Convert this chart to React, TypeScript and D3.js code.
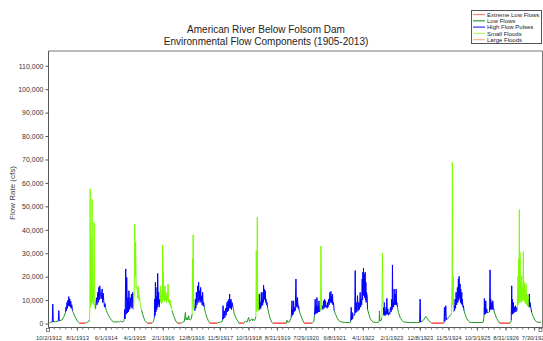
import { useEffect, useRef } from "react";
import * as d3 from "d3";

// flow component codes: E extreme low, L low flow, H high flow pulse, S small flood
type Comp = "E" | "L" | "H" | "S";
type Pt = [number, number, Comp]; // [record step (~11 days) from 10/2/1912, flow cfs, component]

const wy1913: Pt[] = [
  [0.8, 300, "L"], [2, 500, "L"], [3.8, 600, "L"], [4.3, 8300, "H"], [4.8, 700, "L"], [7, 800, "L"],
  [9.8, 1000, "L"], [10.3, 5500, "H"], [10.8, 1200, "L"], [13.5, 1500, "L"], [15.5, 3000, "L"], [17, 4700, "L"],
  [17.5, 7000, "H"], [18, 5500, "H"], [18.5, 9000, "H"], [19, 6500, "H"], [19.5, 10000, "H"], [20, 7500, "H"],
  [20.3, 11500, "H"], [20.8, 7500, "H"], [21.3, 10500, "H"], [21.8, 7000, "H"], [22.3, 9500, "H"], [22.8, 6500, "H"],
  [23.3, 8000, "H"], [24, 5500, "L"], [25, 4500, "L"], [27, 2500, "L"], [29, 1000, "L"], [30.5, 300, "L"],
  [31, 150, "E"], [37, 150, "E"], [38, 400, "L"], [40, 700, "L"],
];
const wy1914: Pt[] = [
  [41, 1500, "L"], [41.4, 6000, "S"], [41.7, 57500, "S"], [42.1, 7000, "S"], [42.7, 36500, "S"], [43.1, 8000, "S"],
  [43.7, 53000, "S"], [44.1, 9000, "S"], [44.6, 17000, "S"], [45.1, 8000, "S"], [45.7, 43000, "S"], [46, 25000, "S"],
  [46.4, 7000, "S"], [47, 6100, "H"], [48, 11000, "H"], [48.6, 8000, "H"], [49.3, 13300, "H"], [49.8, 9000, "H"],
  [50.3, 15400, "H"], [50.8, 10000, "H"], [51.3, 16100, "H"], [52, 12500, "H"], [52.7, 10500, "H"], [53.7, 14700, "H"],
  [54.2, 9000, "H"], [54.7, 13000, "H"], [55.3, 10000, "H"], [56, 7000, "H"], [56.5, 8500, "H"], [57, 7000, "L"],
  [58, 5500, "L"], [58.7, 4700, "L"], [60.3, 3300, "L"], [62, 2100, "L"], [63.7, 1100, "L"], [65.3, 700, "L"],
  [68.7, 600, "L"], [70, 900, "L"], [71, 600, "L"], [72, 1000, "L"], [73.7, 700, "L"],
];
const wy1915: Pt[] = [
  [75, 900, "L"], [76, 2000, "L"], [76.3, 6000, "H"], [76.7, 2000, "L"], [77.3, 23300, "H"], [77.8, 4000, "H"],
  [78.3, 19700, "H"], [79, 4500, "L"], [79.5, 11000, "H"], [80, 5000, "H"], [80.5, 14000, "H"], [81.3, 6000, "H"],
  [82, 11000, "H"], [82.5, 7000, "H"], [83, 12600, "H"], [83.7, 6500, "H"], [84.3, 13300, "H"], [85, 6000, "L"],
  [85.8, 12000, "S"], [86.3, 42300, "S"], [86.8, 20000, "S"], [87.2, 34700, "S"], [87.7, 15000, "S"], [88.7, 15400, "S"],
  [89.3, 11000, "S"], [89.8, 16000, "S"], [90.5, 10000, "S"], [91, 12000, "S"], [92, 7600, "S"], [93, 6000, "L"],
  [94.3, 4000, "L"], [95.3, 2500, "L"], [96.5, 1200, "L"], [98, 500, "L"], [99, 150, "E"], [103.5, 150, "E"],
  [104, 300, "L"],
];
const wy1916: Pt[] = [
  [105, 800, "L"], [106, 2500, "L"], [106.3, 10400, "H"], [106.7, 3500, "H"], [107, 17600, "H"], [107.5, 5000, "H"],
  [108, 11500, "H"], [108.4, 6000, "H"], [108.7, 15400, "H"], [109, 7000, "H"], [109.3, 21400, "H"], [109.8, 8000, "H"],
  [110.3, 13300, "H"], [110.8, 7000, "H"], [111.3, 10400, "H"], [112, 16100, "S"], [112.4, 9000, "S"], [112.7, 12000, "S"],
  [113.2, 8500, "S"], [113.7, 14000, "S"], [114, 9000, "S"], [114.3, 33600, "S"], [114.7, 12000, "S"], [115, 21900, "S"],
  [115.4, 10000, "S"], [115.7, 14000, "S"], [116.2, 9500, "S"], [116.7, 16100, "S"], [117.2, 10000, "S"], [117.7, 12000, "S"],
  [118.2, 9000, "S"], [118.7, 13300, "S"], [119.2, 10000, "S"], [119.7, 16900, "S"], [120.2, 9000, "S"], [120.7, 10400, "S"],
  [121.3, 8000, "S"], [122, 9700, "S"], [122.5, 7000, "S"], [123, 7600, "S"], [123.7, 5400, "L"], [125.3, 3300, "L"],
  [127, 1500, "L"], [128.3, 500, "L"], [129, 150, "E"], [132, 150, "E"], [133, 300, "L"],
];
const wy1917: Pt[] = [
  [134, 500, "L"], [136, 900, "L"], [137, 4700, "L"], [137.7, 1500, "L"], [138.7, 2500, "L"], [139.5, 1500, "L"],
  [140.3, 3300, "L"], [141, 1800, "L"], [142, 1500, "L"], [143, 2000, "L"], [143.8, 4000, "L"], [144.2, 27600, "S"],
  [144.5, 8000, "S"], [144.8, 37900, "S"], [145.3, 6000, "S"], [146, 7600, "H"], [146.5, 5500, "H"], [147, 10400, "H"],
  [147.5, 6500, "H"], [148, 13300, "H"], [148.6, 8000, "H"], [149.3, 16100, "H"], [149.8, 9000, "H"], [150.3, 17600, "H"],
  [150.8, 10000, "H"], [151.3, 14000, "H"], [151.8, 9000, "H"], [152.3, 15400, "H"], [152.8, 9500, "H"], [153.3, 11800, "H"],
  [153.8, 8000, "H"], [154.3, 13300, "H"], [154.8, 7500, "H"], [155.3, 9000, "H"], [156, 6900, "L"], [157, 4700, "L"],
  [158.7, 2500, "L"], [160.3, 800, "L"], [161.5, 150, "E"], [168.7, 150, "E"], [169.5, 300, "L"],
];
const wy1918: Pt[] = [
  [171, 500, "L"], [173.7, 800, "L"], [174.3, 1500, "L"], [174.7, 7600, "H"], [175.2, 2000, "L"], [176, 5400, "H"],
  [176.5, 2500, "L"], [177.3, 6500, "H"], [177.8, 3500, "L"], [178.7, 9000, "H"], [179.2, 5000, "H"], [179.7, 9700, "H"],
  [180.2, 5500, "H"], [180.7, 10400, "H"], [181, 6500, "H"], [181.3, 12600, "H"], [181.7, 7000, "H"], [182, 9700, "H"],
  [182.3, 6500, "H"], [182.7, 10400, "H"], [183.2, 6000, "H"], [183.7, 9000, "H"], [184.7, 6900, "L"], [186, 4000, "L"],
  [188, 2100, "L"], [190, 700, "L"], [190.7, 150, "E"], [195.3, 150, "E"], [196, 300, "L"],
];
const wy1919: Pt[] = [
  [197, 1000, "L"], [198.7, 600, "L"], [200.3, 2600, "L"], [201.2, 900, "L"], [202, 1200, "L"], [203.7, 2000, "L"],
  [204.5, 1200, "L"], [205.3, 1800, "L"], [206.2, 1300, "L"], [207, 2000, "L"], [207.6, 3000, "L"], [208, 31100, "S"],
  [208.5, 5000, "S"], [209, 45400, "S"], [209.4, 6000, "S"], [209.7, 12600, "S"], [210.2, 5500, "H"], [210.5, 7600, "H"],
  [211, 12600, "H"], [211.5, 6000, "H"], [212, 9000, "H"], [212.5, 6500, "H"], [213, 13300, "H"], [213.5, 7500, "H"],
  [214, 10400, "H"], [214.4, 8000, "H"], [214.7, 13300, "H"], [215, 9000, "H"], [215.3, 16400, "H"], [215.7, 10000, "H"],
  [216, 14700, "H"], [216.5, 10500, "H"], [217, 14000, "H"], [217.4, 9000, "H"], [217.7, 10400, "H"], [218.2, 8000, "H"],
  [218.7, 9000, "H"], [219.3, 6900, "L"], [220.7, 4000, "L"], [222, 1900, "L"], [223.7, 500, "L"], [224.5, 150, "E"],
  [238, 150, "E"], [238.7, 1400, "L"],
];
const wy1920: Pt[] = [
  [239.5, 500, "L"], [241, 700, "L"], [243, 2600, "L"], [243.7, 9700, "H"], [244.2, 3500, "L"], [244.7, 6000, "H"],
  [245, 4000, "L"], [245.3, 9700, "H"], [245.8, 5000, "L"], [246.3, 7000, "H"], [247, 5500, "L"], [247.7, 19000, "H"],
  [248.2, 7000, "L"], [248.7, 10400, "H"], [249, 7500, "L"], [249.3, 11100, "H"], [249.8, 6500, "L"], [250.3, 7600, "H"],
  [251, 5500, "L"], [252, 4000, "L"], [253.7, 2100, "L"], [255.3, 700, "L"], [256, 150, "E"], [263.7, 150, "E"],
  [264.5, 400, "L"],
];
const wy1921: Pt[] = [
  [265.5, 800, "L"], [266.3, 3500, "L"], [267, 10400, "H"], [267.5, 4000, "L"], [268, 6900, "H"], [268.3, 4500, "L"],
  [268.7, 11100, "H"], [269.2, 4500, "L"], [269.7, 7600, "H"], [270.2, 5000, "L"], [270.7, 9700, "H"], [271.2, 5000, "L"],
  [271.7, 5400, "H"], [272.3, 5500, "L"], [272.7, 33000, "S"], [273, 15400, "S"], [273.5, 6000, "L"], [274, 7600, "H"],
  [274.7, 6000, "H"], [275.3, 9700, "H"], [275.8, 6500, "H"], [276.3, 10400, "H"], [276.8, 7000, "H"], [277.3, 9700, "H"],
  [277.8, 7000, "H"], [278.3, 7600, "H"], [278.8, 6500, "H"], [279.3, 9000, "H"], [279.8, 7000, "H"], [280.3, 10400, "H"],
  [281, 8000, "H"], [281.7, 13300, "H"], [282.2, 9000, "H"], [282.7, 13700, "H"], [283.2, 9000, "H"], [283.7, 11800, "H"],
  [284, 8500, "H"], [284.3, 12600, "H"], [284.8, 8000, "H"], [285.3, 9000, "H"], [286, 5400, "L"], [287.3, 4000, "L"],
  [288.7, 2600, "L"], [290.3, 1400, "L"], [292, 900, "L"], [293.7, 600, "L"], [297, 450, "L"], [302, 400, "L"],
];
const wy1922: Pt[] = [
  [302.5, 1000, "L"], [303, 6900, "H"], [303.5, 1500, "L"], [304, 4700, "H"], [304.5, 2000, "L"], [305.3, 4000, "L"],
  [306.5, 3500, "L"], [307, 22600, "H"], [307.5, 4500, "H"], [308, 9000, "H"], [308.7, 5000, "H"], [309.3, 11900, "H"],
  [310, 5500, "H"], [310.7, 9000, "H"], [311.3, 6000, "H"], [312, 13300, "H"], [312.5, 7000, "H"], [313, 10400, "H"],
  [313.5, 8000, "H"], [314, 19000, "H"], [314.4, 10000, "H"], [314.7, 21900, "H"], [315, 12000, "H"], [315.3, 23600, "H"],
  [315.7, 12000, "H"], [316, 21100, "H"], [316.5, 11000, "H"], [317, 21900, "H"], [317.4, 10000, "H"], [317.7, 17600, "H"],
  [318, 9000, "H"], [318.3, 13300, "H"], [319, 11900, "H"], [319.3, 6200, "L"], [320.7, 4000, "L"], [322, 2100, "L"],
  [323.7, 1100, "L"], [325.3, 600, "L"], [328, 450, "L"], [330, 500, "L"],
];
const wy1923: Pt[] = [
  [331, 800, "L"], [331.3, 5400, "L"], [331.7, 1200, "L"], [333, 1300, "L"], [333.7, 2500, "L"], [334, 12600, "S"],
  [334.3, 30100, "S"], [334.7, 12600, "S"], [335.3, 6900, "H"], [335.7, 3500, "L"], [336, 9000, "H"], [336.5, 3500, "L"],
  [337, 5400, "H"], [337.5, 3500, "L"], [338, 6900, "H"], [338.3, 4000, "L"], [338.7, 10700, "H"], [339.2, 4000, "L"],
  [339.7, 6200, "H"], [340.3, 3500, "L"], [341, 4700, "H"], [341.7, 4000, "L"], [342.3, 6900, "H"], [343, 5000, "L"],
  [343.7, 10400, "H"], [344, 6000, "H"], [344.3, 25000, "H"], [344.7, 7000, "H"], [345, 9000, "H"], [345.5, 7000, "H"],
  [346, 14700, "H"], [346.5, 8000, "H"], [347, 12600, "H"], [347.5, 8000, "H"], [348, 14700, "H"], [348.4, 8000, "H"],
  [348.7, 9000, "H"], [349.3, 6900, "L"], [350.3, 4700, "L"], [352, 2600, "L"], [353.7, 1400, "L"], [355.3, 700, "L"],
];
const wy1924: Pt[] = [
  [362, 400, "L"], [368, 400, "L"], [371.5, 500, "L"], [372, 10400, "H"], [372.5, 600, "L"], [375.3, 1400, "L"],
  [377.7, 3000, "L"], [379.3, 2100, "L"], [381, 1100, "L"], [382.7, 400, "L"], [383.7, 150, "E"], [395.3, 150, "E"],
  [396, 400, "L"],
];
const wy1925: Pt[] = [
  [396.3, 6900, "H"], [396.8, 1000, "L"], [397.7, 7600, "H"], [398.2, 1500, "L"], [400.3, 2500, "L"], [402, 3500, "L"],
  [403.5, 4000, "L"], [404, 20400, "S"], [404.3, 68700, "S"], [404.7, 8000, "S"], [405, 20400, "S"], [405.5, 5000, "L"],
  [406, 7600, "H"], [406.5, 5500, "H"], [407, 10400, "H"], [407.5, 6500, "H"], [408, 13300, "H"], [408.6, 8000, "H"],
  [409.3, 15400, "H"], [409.8, 9000, "H"], [410.3, 19000, "H"], [410.7, 10000, "H"], [411, 20100, "H"], [411.5, 11000, "H"],
  [412, 16900, "H"], [412.4, 9000, "H"], [412.7, 14700, "H"], [413.2, 8500, "H"], [413.7, 13300, "H"], [414, 8000, "H"],
  [414.3, 10400, "H"], [414.8, 7000, "H"], [415.3, 7600, "H"], [416, 5400, "L"], [417.3, 3600, "L"], [418.7, 2100, "L"],
  [420.3, 1100, "L"], [422, 500, "L"], [428, 400, "L"], [435, 450, "L"],
];
const wy1926: Pt[] = [
  [435.5, 1500, "L"], [436, 3500, "L"], [436.3, 10700, "H"], [436.7, 4000, "L"], [437, 6900, "H"], [437.3, 4000, "L"],
  [437.7, 9700, "H"], [438.2, 4500, "L"], [438.7, 6200, "H"], [439.2, 4500, "L"], [440.3, 4700, "L"], [441.5, 5000, "L"],
  [442, 22900, "H"], [442.4, 6000, "H"], [442.7, 10400, "H"], [443.2, 6000, "H"], [443.7, 9000, "H"], [444.2, 6000, "H"],
  [444.7, 9700, "H"], [445.3, 6900, "H"], [446, 5400, "L"], [447.3, 3600, "L"], [448.7, 2100, "L"], [450.3, 1100, "L"],
  [451.5, 150, "E"], [462, 150, "E"], [462.7, 400, "L"],
];
const wy1927: Pt[] = [
  [463.2, 1500, "L"], [463.7, 16100, "H"], [464, 4000, "L"], [464.3, 10400, "H"], [464.8, 4000, "L"], [465.3, 9000, "H"],
  [465.8, 4500, "L"], [466.3, 6900, "H"], [466.8, 5000, "L"], [467.3, 7600, "H"], [468, 5000, "L"], [468.7, 6900, "H"],
  [469.3, 5500, "L"], [470, 20400, "S"], [470.4, 8000, "S"], [470.7, 27600, "S"], [471, 9000, "S"], [471.3, 48600, "S"],
  [471.7, 9000, "S"], [472, 30400, "S"], [472.4, 10000, "S"], [472.7, 17600, "S"], [473.2, 9000, "S"], [473.7, 20400, "S"],
  [474.2, 9500, "S"], [474.7, 15400, "S"], [475, 10000, "S"], [475.3, 30700, "S"], [475.8, 10000, "S"], [476.3, 17600, "S"],
  [476.8, 9000, "S"], [477.3, 14000, "S"], [477.7, 8500, "S"], [478, 16900, "S"], [478.5, 8000, "S"], [479, 12600, "S"],
  [479.5, 7500, "S"], [480, 11900, "S"], [480.4, 7000, "H"], [480.7, 10400, "H"], [481, 7000, "H"], [481.3, 12600, "H"],
  [481.7, 7000, "H"], [482, 9000, "H"], [482.7, 6900, "H"], [483.7, 4700, "L"], [485.3, 3000, "L"], [487, 1400, "L"],
  [488.7, 700, "L"], [491, 500, "L"], [493, 500, "L"],
];

const xTickLabels = [
  "10/2/1912", "8/1/1913", "6/1/1914", "4/1/1915", "2/1/1916", "12/8/1916", "11/5/1917", "10/3/1918", "8/31/1919",
  "7/29/1920", "6/8/1921", "4/1/1922", "2/1/1923", "12/8/1923", "11/5/1924", "10/3/1925", "8/31/1926", "7/30/1927",
];
const yTicks = [0, 10000, 20000, 30000, 40000, 50000, 60000, 70000, 80000, 90000, 100000, 110000];
const legendNames = ["Extreme Low Flows", "Low Flows", "High Flow Pulses", "Small Floods", "Large Floods"];
const legendColors = ["#ff8080", "#2c9c2c", "#3030ff", "#b8ff70", "#ffb088"];

const STEPS = 495;
const LABEL_STEP = 28.6; // record steps between labelled dates
const FONT = "'Liberation Sans', Arial, sans-serif";

export default function App() {
  const svgRef = useRef<SVGSVGElement>(null);

  useEffect(() => {
    if (!svgRef.current) return;
    document.body.style.margin = "0";
    const svg = d3.select(svgRef.current);
    svg.selectAll("*").remove();

    const width = 543;
    const height = 341;
    const margin = { top: 51, right: 0, bottom: 13.5, left: 48.5 };
    const innerBottom = height - margin.bottom;

    svg.attr("width", width).attr("height", height).style("background", "#fff");

    const x = d3.scaleLinear().domain([0, STEPS]).range([margin.left, width - margin.right]);
    const y = d3.scaleLinear().domain([-1700, 116300]).range([innerBottom, margin.top]);

    // title
    const title = svg.append("g").attr("font-family", FONT).attr("font-size", 10).attr("fill", "#222").attr("text-anchor", "middle");
    title.append("text").attr("x", 266).attr("y", 33).text("American River Below Folsom Dam");
    title.append("text").attr("x", 266).attr("y", 45).text("Environmental Flow Components (1905-2013)");

    // frame
    svg.append("path")
      .attr("d", `M${margin.left},${margin.top}H542.5V${innerBottom}`)
      .attr("fill", "none")
      .attr("stroke", "#777");

    // series, each segment coloured by its flow component
    const series = [wy1913, wy1914, wy1915, wy1916, wy1917, wy1918, wy1919, wy1920, wy1921, wy1922, wy1923, wy1924, wy1925, wy1926, wy1927].flat();
    const rank: Record<Comp, number> = { E: 0, L: 1, H: 2, S: 3 };
    const colors: Record<Comp, string> = { E: "#ff4040", L: "#239a23", H: "#0000ff", S: "#7cfc00" };
    const order: Comp[] = ["L", "E", "H", "S"];
    const runs: { comp: Comp; pts: Pt[] }[] = [];
    for (let i = 1; i < series.length; i++) {
      const a = series[i - 1];
      const b = series[i];
      const comp = rank[a[2]] >= rank[b[2]] ? a[2] : b[2];
      const last = runs[runs.length - 1];
      if (last && last.comp === comp) last.pts.push(b);
      else runs.push({ comp, pts: [a, b] });
    }
    const line = d3.line<Pt>().x((d) => x(d[0])).y((d) => y(d[1]));
    const plot = svg.append("g");
    order.forEach((c) => {
      plot.selectAll(`.run-${c}`)
        .data(runs.filter((r) => r.comp === c))
        .join("path")
        .attr("d", (r) => line(r.pts))
        .attr("fill", "none")
        .attr("stroke", colors[c])
        .attr("stroke-width", c === "E" ? 1.4 : 1);
    });

    // y axis
    const yAxis = svg.append("g")
      .attr("transform", `translate(${margin.left},0)`)
      .call(d3.axisLeft(y).tickValues(yTicks).tickSize(3).tickPadding(2).tickFormat(d3.format(",")));
    yAxis.select(".domain").attr("stroke", "#555").attr("d", `M0,${margin.top}V${innerBottom}`);
    yAxis.selectAll(".tick line").attr("stroke", "#555");
    yAxis.selectAll("text").attr("font-size", 7).attr("font-family", FONT).attr("fill", "#333");

    svg.append("text")
      .attr("transform", "translate(15,193) rotate(-90)")
      .attr("text-anchor", "middle")
      .attr("font-family", FONT)
      .attr("font-size", 8)
      .attr("fill", "#444")
      .text("Flow Rate (cfs)");

    // x axis: dated labels at a fixed record spacing, minor ticks between
    const xAxis = svg.append("g")
      .attr("transform", `translate(0,${innerBottom})`)
      .call(
        d3.axisBottom(x)
          .tickValues(xTickLabels.map((_, i) => i * LABEL_STEP))
          .tickSize(3)
          .tickPadding(5)
          .tickFormat((_, i) => xTickLabels[i])
      );
    xAxis.select(".domain").attr("stroke", "#555").attr("d", `M${margin.left},0H542.5`);
    xAxis.selectAll(".tick line").attr("stroke", "#555");
    xAxis.selectAll("text").attr("font-size", 5.8).attr("font-family", FONT).attr("fill", "#333");
    xAxis.selectAll(".minor")
      .data(d3.range(0, STEPS, LABEL_STEP / 5))
      .join("line")
      .attr("x1", (d) => x(d))
      .attr("x2", (d) => x(d))
      .attr("y1", 0)
      .attr("y2", 2)
      .attr("stroke", "#777");
    // scroll handles at both ends of the axis
    xAxis.selectAll(".handle")
      .data([0, STEPS])
      .join("rect")
      .attr("x", (d) => x(d) - (d === 0 ? 2 : 4))
      .attr("y", 1)
      .attr("width", 3)
      .attr("height", 3)
      .attr("fill", "#fff")
      .attr("stroke", "#666")
      .attr("stroke-width", 0.8);

    // legend
    const legend = svg.append("g").attr("font-family", FONT).attr("font-size", 6).attr("fill", "#222");
    legend.append("rect")
      .attr("x", 471.5).attr("y", 10.5).attr("width", 70).attr("height", 33)
      .attr("fill", "#fff").attr("stroke", "#555");
    legendNames.forEach((name, i) => {
      const ly = 14.5 + i * 6.3;
      legend.append("line").attr("x1", 473).attr("x2", 485).attr("y1", ly).attr("y2", ly)
        .attr("stroke", legendColors[i]).attr("stroke-width", 1.2);
      legend.append("text").attr("x", 487).attr("y", ly).attr("dy", "0.35em").text(name);
    });
  }, []);

  return (
    <div style={{ position: "absolute", left: 0, top: 0 }}>
      <svg ref={svgRef} />
    </div>
  );
}
